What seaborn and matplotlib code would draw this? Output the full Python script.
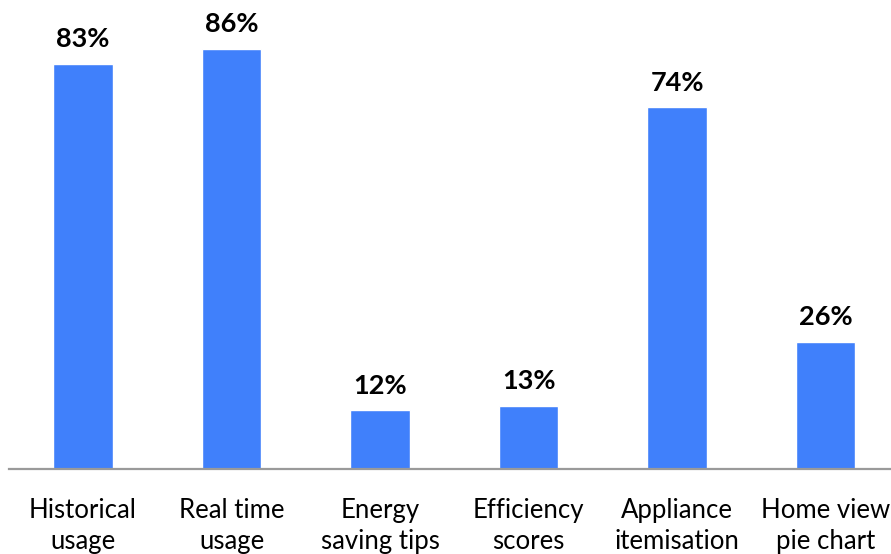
import matplotlib
matplotlib.use("Agg")
import matplotlib.pyplot as plt
import seaborn as sns
import pandas as pd

# feature usage share (%)
features = ["Historical\nusage", "Real time\nusage", "Energy\nsaving tips",
            "Efficiency\nscores", "Appliance\nitemisation", "Home view\npie chart"]
shares = [83, 86, 12, 13, 74, 26]

df = pd.DataFrame({"feature": features, "share": shares})

sns.set_theme(style="white")
plt.rcParams['font.family'] = ['Lato', 'DejaVu Sans']

fig = plt.figure(figsize=(8.91, 5.54), dpi=100)
ax = fig.add_axes([0.0098, 0.1534, 1 - 0.0098, 1 - 0.1534])

sns.barplot(data=df, x="feature", y="share", color="#4080fb", saturation=1,
            width=0.4, ax=ax)

ax.bar_label(ax.containers[0], labels=[f"{v}%" for v in shares],
             padding=9, fontsize=19.5, fontweight="bold", color="black")

ax.set_xlim(-0.5, 5.44)
ax.set_ylim(0, 96)
ax.set_xlabel("")
ax.set_ylabel("")
ax.set_yticks([])
ax.tick_params(axis="x", length=0, pad=21, labelsize=18.5, colors="black")
for lbl in ax.get_xticklabels():
    lbl.set_linespacing(1.3)

for side in ["top", "right", "left"]:
    ax.spines[side].set_visible(False)
ax.spines["bottom"].set_color("#9a9a9a")
ax.spines["bottom"].set_linewidth(1.6)

fig.savefig("out.png", dpi=100)
